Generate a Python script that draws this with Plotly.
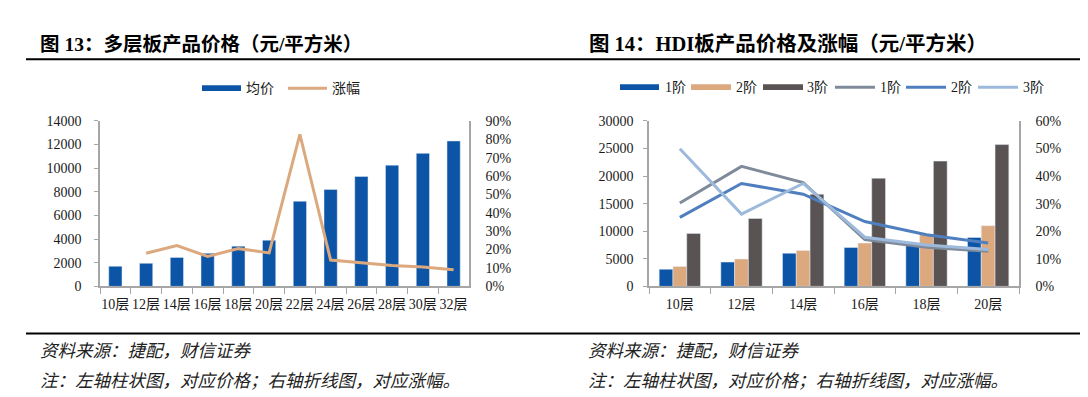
import plotly.graph_objects as go

# ---------------- data ----------------
left_cats = ["10层", "12层", "14层", "16层", "18层", "20层", "22层", "24层", "26层", "28层", "30层", "32层"]
left_price = [1700, 1950, 2450, 2800, 3400, 3900, 7200, 8200, 9300, 10250, 11250, 12300]
left_growth = [None, 0.180, 0.222, 0.163, 0.205, 0.182, 0.826, 0.143, 0.128, 0.114, 0.105, 0.090]

right_cats = ["10层", "12层", "14层", "16层", "18层", "20层"]
hdi_price_1 = [3100, 4400, 6000, 7050, 7400, 8850]
hdi_price_2 = [3600, 4950, 6500, 7850, 9400, 11000]
hdi_price_3 = [9600, 12300, 16700, 19600, 22700, 25700]
hdi_growth_1 = [0.302, 0.435, 0.376, 0.170, 0.142, 0.127]
hdi_growth_2 = [0.250, 0.373, 0.334, 0.235, 0.187, 0.157]
hdi_growth_3 = [0.499, 0.262, 0.373, 0.178, 0.150, 0.134]

left_y_ticks = [0, 2000, 4000, 6000, 8000, 10000, 12000, 14000]
left_y2_ticks = [0, 0.1, 0.2, 0.3, 0.4, 0.5, 0.6, 0.7, 0.8, 0.9]
right_y_ticks = [0, 5000, 10000, 15000, 20000, 25000, 30000]
right_y2_ticks = [0, 0.1, 0.2, 0.3, 0.4, 0.5, 0.6]

# ---------------- styles ----------------
W, H = 1088, 397
C_BLUE = "#0B54A6"
C_TAN = "#DCA97F"
C_DARK = "#595353"
C_L1 = "#7F8B9A"
C_L2 = "#4F7FBE"
C_L3 = "#9DB9DC"
AXIS_C = "#A6A6A6"
TICK_FONT = dict(family="Liberation Serif, Noto Sans CJK SC", size=14, color="#1a1a1a")
LEG_FONT = dict(family="Liberation Serif, Noto Sans CJK SC", size=14, color="#1a1a1a")


def px_x(p):
    return p / W


def px_y(p):
    return 1 - p / H


plot_top, plot_bot = 110, 282
ydom = [px_y(plot_bot), px_y(plot_top)]

fig = go.Figure()

# Left chart
fig.add_trace(go.Bar(x=left_cats, y=left_price, name="均价", marker_color=C_BLUE,
                     width=0.43, xaxis="x", yaxis="y", showlegend=False))
fig.add_trace(go.Scatter(x=left_cats, y=left_growth, name="涨幅", mode="lines",
                         line=dict(color=C_TAN, width=3), xaxis="x", yaxis="y2",
                         showlegend=False, connectgaps=False))

# Right chart
for vals, col, nm in [(hdi_price_1, C_BLUE, "1阶"), (hdi_price_2, C_TAN, "2阶"), (hdi_price_3, C_DARK, "3阶")]:
    fig.add_trace(go.Bar(x=right_cats, y=vals, name=nm, marker_color=col,
                         xaxis="x2", yaxis="y3", showlegend=False))
for vals, col, nm in [(hdi_growth_1, C_L1, "1阶"), (hdi_growth_2, C_L2, "2阶"), (hdi_growth_3, C_L3, "3阶")]:
    fig.add_trace(go.Scatter(x=right_cats, y=vals, name=nm, mode="lines",
                             line=dict(color=col, width=3), xaxis="x2", yaxis="y4",
                             showlegend=False))

xcommon = dict(type="category", showline=True, linecolor=AXIS_C, linewidth=1.5,
               ticks="outside", tickson="boundaries", ticklen=6, tickcolor=AXIS_C,
               showgrid=False, zeroline=False, tickfont=TICK_FONT, ticklabelstandoff=4,
               tickangle=0)
ycommon = dict(showline=True, linecolor=AXIS_C, linewidth=1.5, showgrid=False,
               zeroline=False, tickfont=TICK_FONT, domain=ydom)

fig.update_layout(
    width=W, height=H,
    margin=dict(l=0, r=0, t=0, b=0),
    paper_bgcolor="white", plot_bgcolor="white",
    barmode="group", bargap=0.33, bargroupgap=0,
    showlegend=False,
    xaxis=dict(domain=[px_x(92), px_x(461)], anchor="y", **xcommon),
    yaxis=dict(anchor="x", range=[0, 14000], tickvals=left_y_ticks, tickformat="d",
               ticks="outside", ticklen=4, tickcolor=AXIS_C, ticklabelstandoff=10, **ycommon),
    yaxis2=dict(anchor="x", overlaying="y", side="right", range=[0, 0.9],
                tickvals=left_y2_ticks, tickformat=".0%", ticks="", ticklabelstandoff=12, **ycommon),
    xaxis2=dict(domain=[px_x(641), px_x(1011)], anchor="y3", **xcommon),
    yaxis3=dict(anchor="x2", range=[0, 30000], tickvals=right_y_ticks, tickformat="d",
                ticks="outside", ticklen=4, tickcolor=AXIS_C, ticklabelstandoff=7, **ycommon),
    yaxis4=dict(anchor="x2", overlaying="y3", side="right", range=[0, 0.6],
                tickvals=right_y2_ticks, tickformat=".0%", ticks="", ticklabelstandoff=12, **ycommon),
)

shapes = []
annos = []

# Header / footer rules
for yy in (46, 331):
    shapes.append(dict(type="line", xref="paper", yref="paper", x0=px_x(18), x1=px_x(1075),
                       y0=px_y(yy), y1=px_y(yy), line=dict(color="black", width=2)))

annos.append(dict(text="图 13：多层板产品价格（元/平方米）", x=px_x(30), y=px_y(30), xref="paper", yref="paper",
                  xanchor="left", yanchor="middle", showarrow=False,
                  font=dict(family="Liberation Serif, Noto Sans CJK SC", size=19.5, color="black", weight="bold")))
annos.append(dict(text="图 14：HDI板产品价格及涨幅（元/平方米）", x=px_x(579), y=px_y(30), xref="paper", yref="paper",
                  xanchor="left", yanchor="middle", showarrow=False,
                  font=dict(family="Liberation Serif, Noto Sans CJK SC", size=20.5, color="black", weight="bold")))

FOOT_FONT = dict(family="Noto Sans CJK SC", size=17.5, color="#222222", style="italic")
for x0 in (30, 578):
    annos.append(dict(text="资料来源：捷配，财信证券", x=px_x(x0), y=px_y(348), xref="paper", yref="paper",
                      xanchor="left", yanchor="middle", showarrow=False, font=FOOT_FONT))
    annos.append(dict(text="注：左轴柱状图，对应价格；右轴折线图，对应涨幅。", x=px_x(x0), y=px_y(379),
                      xref="paper", yref="paper", xanchor="left", yanchor="middle", showarrow=False,
                      font=FOOT_FONT))

# Legends (drawn manually)
def leg_rect(x0, x1, yy, col):
    shapes.append(dict(type="rect", xref="paper", yref="paper", x0=px_x(x0), x1=px_x(x1),
                       y0=px_y(yy + 3), y1=px_y(yy - 3), line=dict(width=0), fillcolor=col))


def leg_line(x0, x1, yy, col):
    shapes.append(dict(type="line", xref="paper", yref="paper", x0=px_x(x0), x1=px_x(x1),
                       y0=px_y(yy), y1=px_y(yy), line=dict(color=col, width=3)))


def leg_text(x0, yy, txt):
    annos.append(dict(text=txt, x=px_x(x0), y=px_y(yy), xref="paper", yref="paper", xanchor="left",
                      yanchor="middle", showarrow=False, font=LEG_FONT))


ly = 76
leg_rect(194, 233, ly, C_BLUE); leg_text(236, ly, "均价")
leg_line(280, 319, ly, C_TAN); leg_text(322, ly, "涨幅")

ry = 75
leg_rect(612, 651, ry, C_BLUE); leg_text(655, ry, "1阶")
leg_rect(683, 723, ry, C_TAN); leg_text(726, ry, "2阶")
leg_rect(755, 795, ry, C_DARK); leg_text(797, ry, "3阶")
leg_line(827, 867, ry, C_L1); leg_text(870, ry, "1阶")
leg_line(898, 938, ry, C_L2); leg_text(941, ry, "2阶")
leg_line(970, 1010, ry, C_L3); leg_text(1013, ry, "3阶")

fig.update_layout(shapes=shapes, annotations=annos)
fig.write_html("out.html")
